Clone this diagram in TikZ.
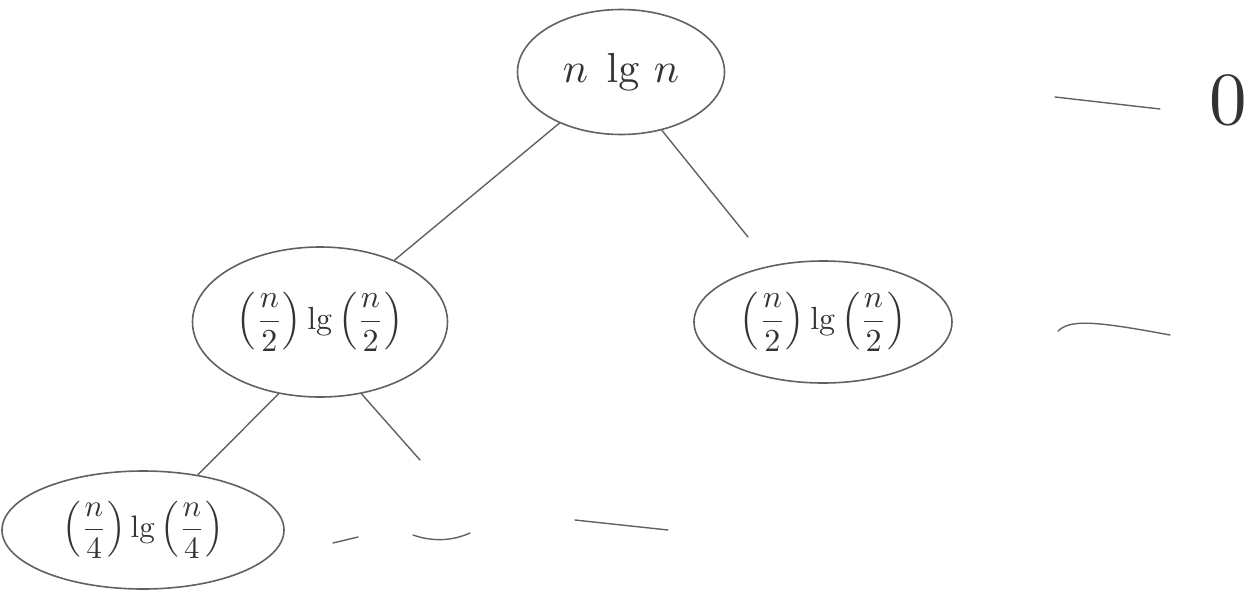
\documentclass[tikz,border=0pt]{standalone}
\usepackage{graphicx}
\usetikzlibrary{shapes.geometric}
\begin{document}
\begin{tikzpicture}[x=1pt,y=-1pt,
  ink/.style={draw=black!62, line width=1.4pt, line cap=round},
  blob/.style={ellipse, draw=black!62, line width=1.6pt, inner sep=0pt, text=black!80}]
\useasboundingbox (0,0) rectangle (1251,600);
\node[blob, minimum width=207, minimum height=125] (root) at (621,72) {\scalebox{4.2}{$n\;\lg\, n$}};
\node[blob, minimum width=255, minimum height=150] (L) at (320,322) {\scalebox{3.2}{$\displaystyle\left(\frac{n}{2}\right)\lg\left(\frac{n}{2}\right)$}};
\node[blob, minimum width=258, minimum height=122] (R) at (823,322) {\scalebox{3.2}{$\displaystyle\left(\frac{n}{2}\right)\lg\left(\frac{n}{2}\right)$}};
\node[blob, minimum width=282, minimum height=118] (LL) at (143,530) {\scalebox{3.1}{$\displaystyle\left(\frac{n}{4}\right)\lg\left(\frac{n}{4}\right)$}};
\node[text=black!80, inner sep=0pt] (zero) at (1228,100) {\scalebox{7.5}{$0$}};
\coordinate (rEnd) at (748,237);
\coordinate (lrEnd) at (420,460);
\draw[ink] (root) -- (L);
\draw[ink] (root.-55) -- (rEnd);
\draw[ink] (L.-120) -- (LL);
\draw[ink] (L.-60) -- (lrEnd);
% level dashes
\coordinate (d1a) at (333,543); \coordinate (d1b) at (358,537);
\coordinate (d2a) at (413,535); \coordinate (d2b) at (470,533);
\coordinate (d3a) at (575,520); \coordinate (d3b) at (668,530);
\draw[ink] (d1a) -- (d1b);
\draw[ink] (d2a) .. controls (430,541) and (450,542) .. (d2b);
\draw[ink] (d3a) -- (d3b);
% right-side cost marks
\coordinate (c1a) at (1055,97); \coordinate (c1b) at (1160,109);
\draw[ink] (c1a) -- (c1b);
\coordinate (c2a) at (1058,331); \coordinate (c2b) at (1170,335);
\draw[ink] (c2a) .. controls (1070,320) and (1090,320) .. (c2b);
\end{tikzpicture}
\end{document}
